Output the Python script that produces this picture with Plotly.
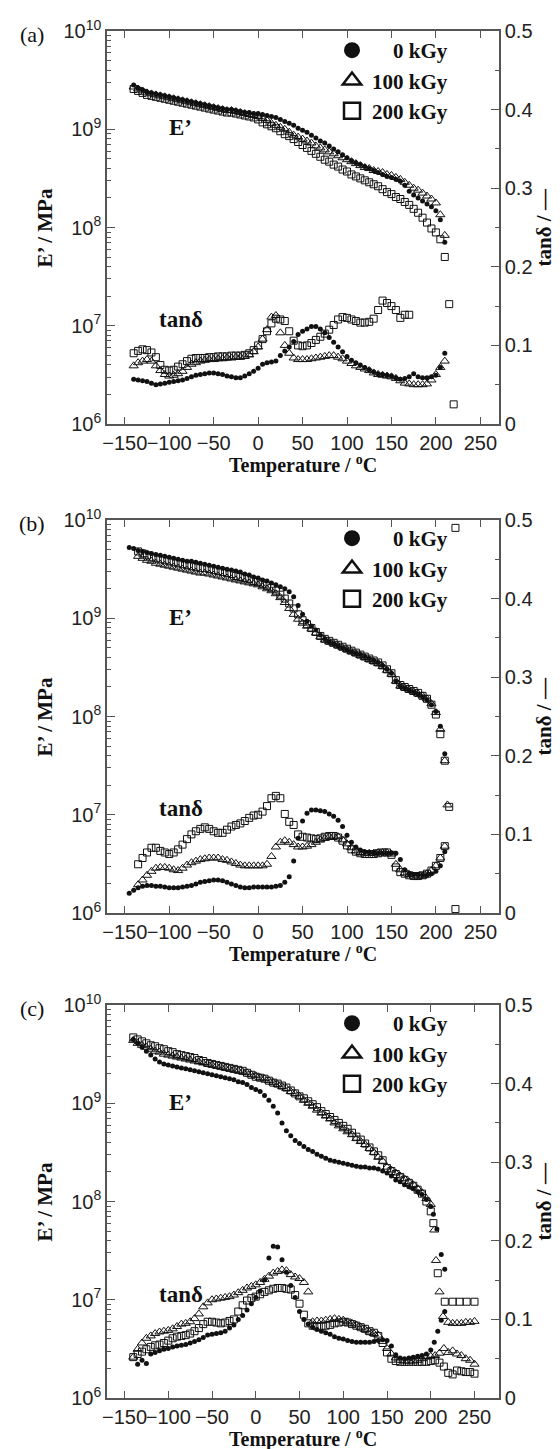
import plotly.graph_objects as go

# ---------------- DATA ----------------
# Panel (a)
T_A = [-140, -135, -130, -125, -120, -115, -110, -105, -100, -95,
       -90, -85, -80, -75, -70, -65, -60, -55, -50, -45,
       -40, -35, -30, -25, -20, -15, -10, -5, 0, 5,
       10, 15, 20, 25, 30, 35, 40, 45, 50, 55,
       60, 65, 70, 75, 80, 85, 90, 95, 100, 105,
       110, 115, 120, 125, 130, 135, 140, 145, 150, 155,
       160, 165, 170, 175, 180, 185, 190, 195, 200, 205, 210]
# log10(E' / MPa)
A_E_0 = [9.45, 9.42, 9.40, 9.38, 9.37, 9.36, 9.35, 9.34, 9.33, 9.32,
         9.31, 9.30, 9.29, 9.28, 9.27, 9.26, 9.25, 9.24, 9.23, 9.22,
         9.21, 9.20, 9.20, 9.19, 9.18, 9.17, 9.17, 9.16, 9.16, 9.15,
         9.14, 9.13, 9.12, 9.10, 9.08, 9.06, 9.04, 9.01, 8.99, 8.97,
         8.94, 8.91, 8.88, 8.86, 8.83, 8.80, 8.77, 8.74, 8.71, 8.68,
         8.66, 8.64, 8.62, 8.60, 8.58, 8.56, 8.54, 8.52, 8.51, 8.49,
         8.47, 8.43, 8.37, 8.33, 8.30, 8.27, 8.24, 8.21, 8.17, 8.08, 7.85]
A_E_100 = [9.43, 9.41, 9.39, 9.37, 9.36, 9.35, 9.34, 9.33, 9.32, 9.31,
           9.30, 9.29, 9.28, 9.27, 9.26, 9.25, 9.24, 9.23, 9.22, 9.21,
           9.20, 9.19, 9.19, 9.18, 9.17, 9.16, 9.15, 9.14, 9.13, 9.11,
           9.09, 9.06, 9.04, 9.02, 9.00, 8.97, 8.94, 8.92, 8.90, 8.88,
           8.86, 8.83, 8.81, 8.79, 8.77, 8.75, 8.73, 8.71, 8.69, 8.67,
           8.65, 8.63, 8.61, 8.60, 8.58, 8.57, 8.56, 8.54, 8.53, 8.51,
           8.49, 8.46, 8.43, 8.40, 8.38, 8.35, 8.32, 8.29, 8.25, 8.13, 7.92]
A_E_200 = [9.41, 9.39, 9.37, 9.35, 9.34, 9.33, 9.32, 9.31, 9.30, 9.29,
           9.28, 9.27, 9.26, 9.25, 9.24, 9.23, 9.22, 9.21, 9.20, 9.19,
           9.18, 9.17, 9.17, 9.16, 9.15, 9.14, 9.13, 9.12, 9.10, 9.07,
           9.05, 9.03, 9.01, 8.98, 8.95, 8.93, 8.90, 8.87, 8.84, 8.81,
           8.78, 8.75, 8.72, 8.69, 8.67, 8.64, 8.62, 8.59, 8.57, 8.54,
           8.52, 8.50, 8.48, 8.46, 8.44, 8.42, 8.39, 8.36, 8.34, 8.31,
           8.29, 8.26, 8.23, 8.19, 8.15, 8.10, 8.05, 7.99, 7.95, 7.88, 7.70]
A_E_200_tail_T = [215, 220]
A_E_200_tail = [7.22, 6.20]
# tan delta
A_tan_0 = [.057, .056, .055, .054, .052, .050, .051, .052, .053, .054,
           .055, .056, .058, .060, .062, .063, .064, .065, .065, .064,
           .063, .061, .060, .059, .059, .061, .064, .067, .071, .076,
           .078, .079, .080, .087, .093, .098, .105, .114, .118, .121,
           .124, .124, .121, .116, .110, .104, .098, .092, .086, .081,
           .078, .075, .072, .069, .066, .064, .063, .062, .061, .059,
           .057, .058, .060, .064, .060, .059, .059, .060, .062, .072, .090]
A_tan_100 = [.074, .078, .080, .082, .080, .074, .068, .063, .061, .062,
             .064, .067, .072, .076, .078, .080, .081, .082, .082, .083,
             .083, .084, .084, .085, .085, .086, .088, .092, .098, .108,
             .120, .136, .138, .116, .100, .090, .084, .082, .082, .082,
             .083, .084, .085, .086, .087, .087, .085, .083, .080, .077,
             .074, .072, .070, .068, .065, .063, .062, .061, .060, .058,
             .055, .052, .051, .050, .050, .050, .051, .056, .063, .072, .080]
A_tan_200 = [.090, .093, .095, .094, .091, .085, .075, .069, .068, .069,
             .073, .076, .080, .083, .084, .084, .084, .085, .085, .086,
             .086, .086, .087, .087, .087, .088, .090, .094, .100, .108,
             .118, .128, .134, .133, .131, .118, .106, .100, .099, .100,
             .103, .107, .111, .115, .120, .126, .133, .136, .135, .133,
             .131, .129, .129, .130, .134, .145, .157, .154, .150, .145,
             .135, .139, .139, None, None, None, None, None, None, None, None]

# Panel (b)
T_B = [-145, -140, -135, -130, -125, -120, -115, -110, -105, -100,
       -95, -90, -85, -80, -75, -70, -65, -60, -55, -50,
       -45, -40, -35, -30, -25, -20, -15, -10, -5, 0,
       5, 10, 15, 20, 25, 30, 35, 40, 45, 50,
       55, 60, 65, 70, 75, 80, 85, 90, 95, 100,
       105, 110, 115, 120, 125, 130, 135, 140, 145, 150,
       155, 160, 165, 170, 175, 180, 185, 190, 195, 200, 205, 210]
B_E_0 = [9.72, 9.71, 9.69, 9.68, 9.67, 9.66, 9.65, 9.64, 9.63, 9.62,
         9.61, 9.60, 9.59, 9.58, 9.58, 9.57, 9.56, 9.55, 9.54, 9.53,
         9.52, 9.51, 9.50, 9.49, 9.48, 9.47, 9.45, 9.44, 9.42, 9.41,
         9.39, 9.38, 9.36, 9.34, 9.32, 9.30, 9.27, 9.22, 9.13, 9.04,
         8.97, 8.92, 8.88, 8.83, 8.79, 8.76, 8.74, 8.72, 8.70, 8.68,
         8.66, 8.64, 8.63, 8.61, 8.59, 8.57, 8.55, 8.52, 8.48, 8.44,
         8.36, 8.31, 8.29, 8.27, 8.25, 8.23, 8.20, 8.17, 8.12, 8.05, 7.90, 7.62]
B_E_100 = [None, None, 9.63, 9.61, 9.59, 9.58, 9.56, 9.55, 9.54, 9.53,
           9.52, 9.51, 9.50, 9.49, 9.48, 9.47, 9.46, 9.46, 9.45, 9.44,
           9.43, 9.42, 9.41, 9.40, 9.39, 9.38, 9.37, 9.36, 9.35, 9.34,
           9.32, 9.30, 9.28, 9.25, 9.21, 9.16, 9.10, 9.04, 8.99, 8.95,
           8.92, 8.89, 8.85, 8.81, 8.78, 8.76, 8.74, 8.72, 8.70, 8.68,
           8.66, 8.64, 8.62, 8.60, 8.58, 8.56, 8.54, 8.51, 8.47, 8.43,
           8.36, 8.31, 8.29, 8.27, 8.25, 8.23, 8.21, 8.18, 8.13, 8.04, 7.87, 7.55]
B_E_100_tail_T = [213]
B_E_100_tail = [7.10]
B_E_200 = [None, None, 9.68, 9.66, 9.64, 9.62, 9.61, 9.60, 9.59, 9.58,
           9.57, 9.56, 9.55, 9.54, 9.53, 9.52, 9.51, 9.51, 9.50, 9.49,
           9.48, 9.47, 9.46, 9.45, 9.43, 9.42, 9.41, 9.40, 9.38, 9.37,
           9.35, 9.33, 9.31, 9.28, 9.24, 9.20, 9.15, 9.10, 9.04, 8.98,
           8.94, 8.90, 8.86, 8.82, 8.79, 8.77, 8.75, 8.73, 8.71, 8.69,
           8.67, 8.65, 8.63, 8.61, 8.59, 8.57, 8.55, 8.52, 8.48, 8.44,
           8.37, 8.32, 8.30, 8.28, 8.26, 8.24, 8.21, 8.18, 8.12, 8.02, 7.82, 7.55]
B_E_200_tail_T = [215, 222]
B_E_200_tail = [7.08, 6.04]
B_tan_0 = [.025, .029, .032, .034, .035, .035, .034, .034, .033, .032,
           .032, .032, .033, .034, .035, .037, .039, .040, .041, .042,
           .042, .041, .039, .037, .035, .033, .032, .032, .033, .033,
           .033, .033, .033, .034, .035, .039, .046, .066, .095, .117,
           .127, .131, .131, .130, .129, .126, .123, .118, .110, .099,
           .090, .084, .080, .078, .077, .076, .076, .076, .076, .076,
           .076, .068, .055, .050, .049, .049, .048, .048, .050, .053, .060, .078]
B_tan_100 = [None, None, .036, .042, .048, .053, .057, .058, .058, .057,
             .055, .054, .057, .061, .064, .066, .068, .069, .070, .070,
             .070, .068, .067, .065, .063, .061, .060, .060, .060, .060,
             .060, .062, .072, .084, .090, .092, .090, .087, .084, .084,
             .085, .087, .090, .093, .095, .097, .098, .097, .093, .088,
             .083, .079, .077, .076, .076, .076, .077, .077, .077, .075,
             .062, .055, .051, .049, .047, .047, .047, .050, .054, .060, .070, .085]
B_tan_200 = [None, None, .062, .070, .077, .083, .083, .079, .077, .075,
             .077, .081, .087, .094, .100, .104, .107, .109, .107, .104,
             .102, .102, .106, .110, .112, .114, .117, .121, .124, .125,
             .129, .136, .146, .149, .146, .126, .116, .112, .100, .097,
             .096, .095, .094, .095, .097, .098, .098, .096, .092, .086,
             .081, .078, .076, .075, .075, .075, .076, .077, .077, .074,
             .058, .052, .050, .048, .047, .047, .048, .050, .054, .060, .070, .085]
B_tan_200_tail_T = [222]
B_tan_200_tail = [0.490]

# Panel (c)
T_C = [-140, -135, -130, -125, -120, -115, -110, -105, -100, -95,
       -90, -85, -80, -75, -70, -65, -60, -55, -50, -45,
       -40, -35, -30, -25, -20, -15, -10, -5, 0, 5,
       10, 15, 20, 25, 30, 35, 40, 45, 50, 55,
       60, 65, 70, 75, 80, 85, 90, 95, 100, 105,
       110, 115, 120, 125, 130, 135, 140, 145, 150, 155,
       160, 165, 170, 175, 180, 185, 190, 195, 200, 205,
       210, 215, 220, 225, 230, 235, 240, 245, 250]
C_E_0 = [9.65, 9.61, 9.57, 9.53, 9.49, 9.45, 9.42, 9.40, 9.39, 9.38,
         9.37, 9.36, 9.35, 9.34, 9.33, 9.32, 9.31, 9.30, 9.29, 9.28,
         9.27, 9.26, 9.25, 9.24, 9.22, 9.21, 9.19, 9.16, 9.14, 9.12,
         9.08, 9.03, 8.97, 8.90, 8.80, 8.72, 8.67, 8.62, 8.59, 8.56,
         8.53, 8.51, 8.48, 8.46, 8.44, 8.42, 8.41, 8.40, 8.39, 8.38,
         8.37, 8.36, 8.35, 8.35, 8.34, 8.34, 8.33, 8.31, 8.29, 8.26,
         8.22, 8.20, 8.17, 8.15, 8.13, 8.10, 8.07, 8.02, 7.95, None,
         None, None, None, None, None, None, None, None, None]
C_E_0_tail_T = [203, 207, 212, 216]
C_E_0_tail = [7.87, 7.72, 7.46, 7.31]
C_E_100 = [9.64, 9.61, 9.59, 9.57, 9.55, 9.53, 9.52, 9.50, 9.49, 9.48,
           9.47, 9.46, 9.45, 9.44, 9.43, 9.42, 9.41, 9.40, 9.39, 9.38,
           9.37, 9.36, 9.35, 9.34, 9.33, 9.32, 9.31, 9.29, 9.28, 9.26,
           9.25, 9.23, 9.21, 9.19, 9.17, 9.15, 9.12, 9.10, 9.07, 9.03,
           9.00, 8.97, 8.93, 8.90, 8.87, 8.84, 8.80, 8.77, 8.74, 8.71,
           8.68, 8.64, 8.61, 8.58, 8.54, 8.50, 8.45, 8.41, 8.35, 8.32,
           8.29, 8.26, 8.23, 8.20, 8.17, 8.13, 8.09, 8.03, 7.97, None,
           None, None, 6.77, 6.76, 6.76, 6.76, 6.77, 6.77, 6.78]
C_E_100_tail_T = [204, 206, 210, 214]
C_E_100_tail = [7.71, 7.40, 7.08, 6.83]
C_E_200 = [9.67, 9.65, 9.63, 9.61, 9.59, 9.58, 9.56, 9.55, 9.53, 9.52,
           9.50, 9.49, 9.48, 9.47, 9.46, 9.44, 9.43, 9.41, 9.40, 9.39,
           9.38, 9.37, 9.36, 9.35, 9.34, 9.33, 9.31, 9.29, 9.27, 9.26,
           9.25, 9.23, 9.21, 9.20, 9.18, 9.16, 9.13, 9.10, 9.07, 9.05,
           9.02, 8.99, 8.96, 8.92, 8.89, 8.86, 8.83, 8.80, 8.77, 8.74,
           8.70, 8.66, 8.63, 8.59, 8.55, 8.51, 8.47, 8.42, 8.34, 8.31,
           8.28, 8.25, 8.22, 8.19, 8.16, 8.12, 8.08, 8.00, 7.90, None,
           None, None, None, None, None, None, None, None, None]
C_E_200_tail_T = [203, 208, 216, 225, 233, 241, 250]
C_E_200_tail = [7.78, 7.27, 6.98, 6.98, 6.98, 6.98, 6.98]
C_tan_0 = [None, .043, .048, .044, .056, .058, .060, .062, .063, .065,
           .066, .067, .068, .070, .072, .074, .077, .080, .081, .082,
           .083, .085, .089, .093, .100, .105, .112, .120, .128, .136,
           .150, .178, .193, .192, .176, .160, .143, .128, .110, .100,
           .094, .090, .087, .085, .083, .081, .078, .076, .075, .073,
           .072, .071, .071, .071, .071, .072, .073, .074, .073, .066,
           .055, .051, .050, .051, .052, .053, .054, .056, .061, None,
           None, None, None, None, None, None, None, None, None]
C_tan_0_tail_T = [204, 208, 212, 216]
C_tan_0_tail = [.071, .085, .099, .110]
C_tan_100 = [.052, .062, .070, .076, .079, .082, .084, .085, .086, .088,
             .091, .094, .095, .097, .101, .107, .116, .121, .125, .126,
             .127, .128, .129, .131, .134, .137, .140, .142, .144, .147,
             .151, .155, .159, .161, .163, .162, .157, .154, .152, .147,
             .135, .097, .098, .098, .099, .100, .101, .100, .099, .097,
             .095, .093, .090, .087, .084, .082, .080, .072, .063, .056,
             .051, .048, .047, .047, .047, .048, .050, .052, .053, .054,
             .057, .063, .058, .060, .056, .054, .050, .048, .043]
C_tan_200 = [.052, .056, .059, .062, .065, .067, .068, .070, .073, .076,
             .078, .079, .080, .082, .085, .089, .094, .097, .097, .096,
             .095, .096, .098, .100, .110, .118, .124, .127, .129, .132,
             .135, .137, .139, .140, .140, .139, .138, .131, .120, .106,
             .095, .092, .091, .091, .092, .093, .095, .096, .097, .096,
             .094, .092, .090, .088, .085, .083, .079, .070, .058, .050,
             .047, .046, .046, .046, .046, .046, .046, .046, .047, .048,
             .045, .040, .032, .030, .035, .034, .033, .033, .031]

SERIES_NAMES = ["0 kGy", "100 kGy", "200 kGy"]
LEGEND_LABELS = ["\u2007\u20070 kGy", "100 kGy", "200 kGy"]
X_TICKS = [-150, -100, -50, 0, 50, 100, 150, 200, 250]
E_TICKS = [1e6, 1e7, 1e8, 1e9, 1e10]
E_TICK_TEXT = ["10<sup>6</sup>", "10<sup>7</sup>", "10<sup>8</sup>",
               "10<sup>9</sup>", "10<sup>10</sup>"]
PANEL_LABELS = ["(a)", "(b)", "(c)"]

# ---------------- LAYOUT HELPERS ----------------
W, H = 560, 1449
L, R, TOP, BOT = 99, 491, 23, 1390
PW, PH = R - L, BOT - TOP


def px_x(px):
    return (px - L) / PW


def px_y(py):
    return (BOT - py) / PH


def to_E(vals):
    return [None if v is None else 10 ** v for v in vals]


INK = "#111111"
AXC = "#555555"
STY = [
    dict(symbol="circle", size=5, color=INK, line=dict(width=0)),
    dict(symbol="triangle-up-open", size=8, color=INK, line=dict(width=1, color=INK)),
    dict(symbol="square-open", size=7, color=INK, line=dict(width=1, color=INK)),
]
LEG_STY = [
    dict(symbol="circle", size=20, color=INK, line=dict(width=0)),
    dict(symbol="triangle-up-open", size=20, color=INK, line=dict(width=2.5, color=INK)),
    dict(symbol="square-open", size=20, color=INK, line=dict(width=2.5, color=INK)),
]

panels = [
    dict(top=23, bottom=416, xr=[-170, 271], T=T_A,
         E=[A_E_0, A_E_100, A_E_200], tan=[A_tan_0, A_tan_100, A_tan_200],
         E_tail=[None, None, (A_E_200_tail_T, A_E_200_tail)],
         tan_tail=[None, None, None], leg_top=22),
    dict(top=512, bottom=905, xr=[-170, 271], T=T_B,
         E=[B_E_0, B_E_100, B_E_200], tan=[B_tan_0, B_tan_100, B_tan_200],
         E_tail=[None, (B_E_100_tail_T, B_E_100_tail), (B_E_200_tail_T, B_E_200_tail)],
         tan_tail=[None, None, (B_tan_200_tail_T, B_tan_200_tail)], leg_top=510),
    dict(top=997, bottom=1390, xr=[-170, 278], T=T_C,
         E=[C_E_0, C_E_100, C_E_200], tan=[C_tan_0, C_tan_100, C_tan_200],
         E_tail=[(C_E_0_tail_T, C_E_0_tail), (C_E_100_tail_T, C_E_100_tail),
                 (C_E_200_tail_T, C_E_200_tail)],
         tan_tail=[(C_tan_0_tail_T, C_tan_0_tail), None, None], leg_top=995),
]

fig = go.Figure()
layout = {}
annotations = []
minor_log = [k * 10 ** e for e in range(6, 10) for k in range(2, 10)]
TICKFONT = dict(family="Liberation Sans", size=20, color="#222")

for i, p in enumerate(panels):
    xn = "" if i == 0 else str(i + 1)
    yl = str(2 * i + 1) if i > 0 else ""
    yr = str(2 * i + 2)
    xa, ya, yb = "x" + xn, "y" + yl, "y" + yr
    leg = "legend" if i == 0 else "legend" + str(i + 1)
    dom = [px_y(p["bottom"]), px_y(p["top"])]

    for s in range(3):
        fig.add_trace(go.Scatter(x=p["T"], y=to_E(p["E"][s]), mode="markers",
                                 marker=STY[s], xaxis=xa, yaxis=ya,
                                 showlegend=False, name=SERIES_NAMES[s]))
        if p["E_tail"][s]:
            tt, tv = p["E_tail"][s]
            fig.add_trace(go.Scatter(x=tt, y=to_E(tv), mode="markers",
                                     marker=STY[s], xaxis=xa, yaxis=ya,
                                     showlegend=False, name=SERIES_NAMES[s]))
        fig.add_trace(go.Scatter(x=p["T"], y=p["tan"][s], mode="markers",
                                 marker=STY[s], xaxis=xa, yaxis=yb,
                                 showlegend=False, name=SERIES_NAMES[s]))
        if p["tan_tail"][s]:
            tt, tv = p["tan_tail"][s]
            fig.add_trace(go.Scatter(x=tt, y=tv, mode="markers",
                                     marker=STY[s], xaxis=xa, yaxis=yb,
                                     showlegend=False, name=SERIES_NAMES[s]))
    # legend entries
    for s in range(3):
        fig.add_trace(go.Scatter(x=[None], y=[None], mode="markers",
                                 marker=LEG_STY[s], xaxis=xa, yaxis=ya,
                                 name=LEGEND_LABELS[s], legend=leg, showlegend=True))

    layout["xaxis" + xn] = dict(
        domain=[0, 1], anchor=ya, range=p["xr"], tickvals=X_TICKS,
        ticktext=[str(t).replace("-", "\u2212") for t in X_TICKS], tickangle=0,
        ticks="inside", ticklen=7, tickwidth=1.2, tickcolor=AXC,
        showline=True, linecolor=AXC, linewidth=1.5, mirror="ticks",
        showgrid=False, zeroline=False, tickfont=TICKFONT)
    layout["yaxis" + yl] = dict(
        domain=dom, anchor=xa, type="log", range=[6, 10],
        tickvals=E_TICKS, ticktext=E_TICK_TEXT,
        ticks="inside", ticklen=8, tickwidth=1.2,
        tickcolor=AXC, showline=True, linecolor=AXC, linewidth=1.5,
        showgrid=False, zeroline=False,
        minor=dict(tickvals=minor_log, ticks="inside", ticklen=4,
                   tickcolor=AXC, showgrid=False),
        tickfont=TICKFONT)
    layout["yaxis" + yr] = dict(
        domain=dom, anchor=xa, overlaying=ya, side="right", range=[0, 0.5],
        tickvals=[0, 0.1, 0.2, 0.3, 0.4, 0.5],
        ticktext=["0", "0.1", "0.2", "0.3", "0.4", "0.5"],
        ticks="inside", ticklen=8, tickwidth=1.2, tickcolor=AXC,
        showline=True, linecolor=AXC, linewidth=1.5, showgrid=False,
        zeroline=False,
        minor=dict(tickvals=[0.05, 0.15, 0.25, 0.35, 0.45], ticks="inside",
                   ticklen=4, tickcolor=AXC, showgrid=False),
        tickfont=TICKFONT)
    layout[leg] = dict(
        x=px_x(324), y=px_y(p["leg_top"]), xanchor="left", yanchor="top",
        bgcolor="rgba(0,0,0,0)", borderwidth=0, tracegroupgap=0,
        font=dict(family="Liberation Serif", size=21, color=INK, weight="bold"))

    mid = (p["top"] + p["bottom"]) / 2
    annotations += [
        dict(text=PANEL_LABELS[i], x=px_x(24), y=px_y(p["top"] + 3), xref="paper",
             yref="paper", showarrow=False, xanchor="center", yanchor="middle",
             font=dict(family="Liberation Serif", size=22, color=INK)),
        dict(text="<b>E\u2019 / MPa</b>", x=px_x(36), y=px_y(mid), xref="paper",
             yref="paper", showarrow=False, textangle=-90, xanchor="center",
             yanchor="middle", font=dict(family="Liberation Serif", size=21, color=INK)),
        dict(text="<b>tan\u03b4 / \u2014</b>", x=px_x(535), y=px_y(mid), xref="paper",
             yref="paper", showarrow=False, textangle=-90, xanchor="center",
             yanchor="middle", font=dict(family="Liberation Serif", size=21, color=INK)),
        dict(text="<b>Temperature / <sup>o</sup>C</b>", x=px_x(295),
             y=px_y(p["bottom"] + 40), xref="paper", yref="paper", showarrow=False,
             xanchor="center", yanchor="middle",
             font=dict(family="Liberation Serif", size=20, color=INK)),
        dict(text="<b>E\u2019</b>", x=px_x(172), y=px_y(p["top"] + 97), xref="paper",
             yref="paper", showarrow=False, xanchor="center", yanchor="middle",
             font=dict(family="Liberation Serif", size=23, color=INK)),
        dict(text="<b>tan\u03b4</b>", x=px_x(173), y=px_y(p["top"] + 289), xref="paper",
             yref="paper", showarrow=False, xanchor="center", yanchor="middle",
             font=dict(family="Liberation Serif", size=23, color=INK)),
    ]

fig.update_layout(
    width=W, height=H, margin=dict(l=L, r=W - R, t=TOP, b=H - BOT, autoexpand=False),
    paper_bgcolor="white", plot_bgcolor="white", annotations=annotations,
    **layout)

fig.write_html("out.html")
